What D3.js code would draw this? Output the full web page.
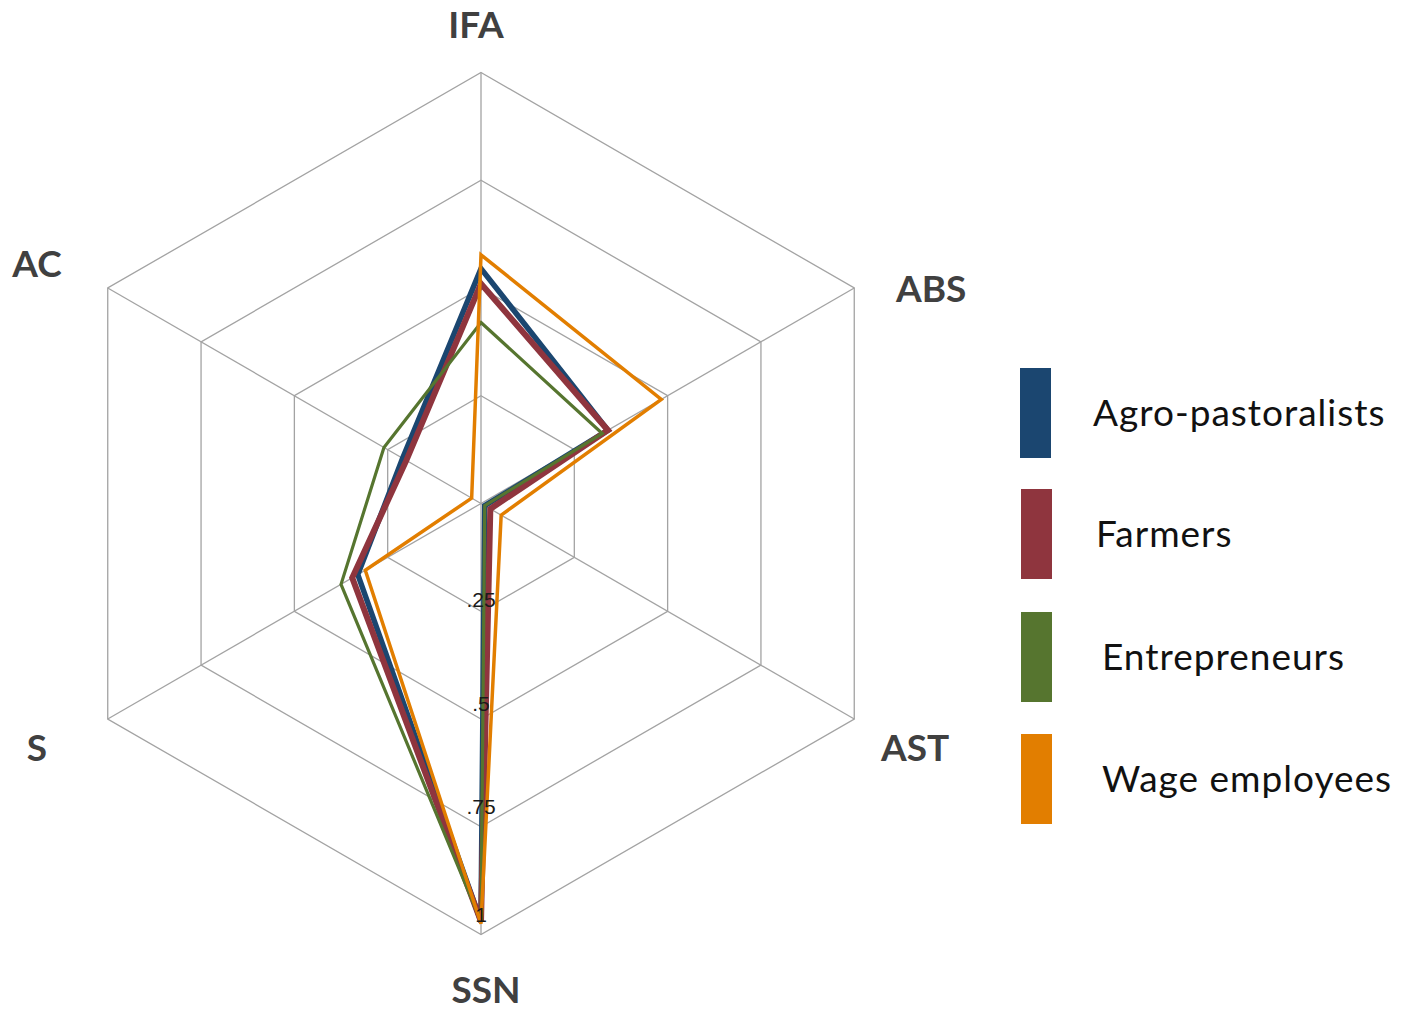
<!DOCTYPE html>
<html>
<head>
<meta charset="utf-8">
<script src="https://cdn.jsdelivr.net/npm/d3@7"></script>
<style>
  html, body { margin: 0; padding: 0; background: #fff; }
  svg { display: block; }
</style>
</head>
<body>
<div id="chart"></div>
<script>
// ── data ──
const axes = ["IFA", "ABS", "AST", "SSN", "S", "AC"];
const ringLevels = [0.25, 0.5, 0.75, 1];
const ringLabels = [".25", ".5", ".75", "1"];

const seriesNames = ["Agro-pastoralists", "Farmers", "Entrepreneurs", "Wage employees"];
const agroPastoralists = [0.545, 0.34, 0.01, 0.97, 0.33, 0.21];
const farmers = [0.51, 0.34, 0.025, 0.97, 0.345, 0.2];
const entrepreneurs = [0.42, 0.325, 0.01, 0.97, 0.375, 0.26];
const wageEmployees = [0.577, 0.483, 0.054, 0.975, 0.31, 0.025];
const seriesValues = [agroPastoralists, farmers, entrepreneurs, wageEmployees];

const colors = ["#1b4670", "#8f353e", "#56752f", "#e27e00"];
const widths = [5.5, 6, 3.2, 3.5];

// ── layout ──
const width = 1414, height = 1010;
const cx = 481, cy = 503.5, R = 431;

const svg = d3.select("#chart").append("svg")
  .attr("width", width)
  .attr("height", height);

const r = d3.scaleLinear().domain([0, 1]).range([0, R]);
const angle = d3.scalePoint().domain(axes.concat("_end")).range([0, 2 * Math.PI]);

const g = svg.append("g").attr("transform", `translate(${cx},${cy})`);

const pt = (a, v) => [Math.sin(angle(a)) * r(v), -Math.cos(angle(a)) * r(v)];

// grid rings
const ringLine = d3.lineRadial()
  .angle((d) => angle(d))
  .curve(d3.curveLinearClosed);

g.append("g").selectAll("path")
  .data(ringLevels)
  .enter()
  .append("path")
  .attr("d", (lv) => ringLine.radius(r(lv))(axes))
  .attr("fill", "none")
  .attr("stroke", "#a3a3a3")
  .attr("stroke-width", 1.3);

// spokes
g.append("g").selectAll("line")
  .data(axes)
  .enter()
  .append("line")
  .attr("x1", 0).attr("y1", 0)
  .attr("x2", (a) => pt(a, 1)[0])
  .attr("y2", (a) => pt(a, 1)[1])
  .attr("stroke", "#a3a3a3")
  .attr("stroke-width", 1.3);

// series
const seriesLine = d3.lineRadial()
  .angle((d, i) => angle(axes[i]))
  .radius((d) => r(d))
  .curve(d3.curveLinearClosed);

g.append("g").selectAll("path")
  .data(seriesValues)
  .enter()
  .append("path")
  .attr("d", (vals) => seriesLine(vals))
  .attr("fill", "none")
  .attr("stroke", (d, i) => colors[i])
  .attr("stroke-width", (d, i) => widths[i])
  .attr("stroke-linejoin", "miter");

// ring tick labels along SSN axis
const labelOffsets = [4, 8, 13, 13];
g.append("g").selectAll("text")
  .data(ringLevels)
  .enter()
  .append("text")
  .attr("x", (lv) => pt("SSN", lv)[0])
  .attr("y", (lv, i) => pt("SSN", lv)[1] - labelOffsets[i])
  .attr("text-anchor", "middle")
  .attr("font-family", "'Liberation Sans', Arial, sans-serif")
  .attr("font-size", 21)
  .attr("fill", "#1a1a1a")
  .text((lv, i) => ringLabels[i]);

// axis labels
const axisLabelPos = {
  IFA: [476, 38, "middle"],
  ABS: [896, 302, "start"],
  AST: [881, 761, "start"],
  SSN: [486, 1003, "middle"],
  S: [37, 761, "middle"],
  AC: [37, 277, "middle"],
};
svg.append("g").selectAll("text")
  .data(axes)
  .enter()
  .append("text")
  .attr("x", (a) => axisLabelPos[a][0])
  .attr("y", (a) => axisLabelPos[a][1])
  .attr("text-anchor", (a) => axisLabelPos[a][2])
  .attr("font-family", "Lato, 'Open Sans', sans-serif")
  .attr("font-weight", "bold")
  .attr("font-size", 37)
  .attr("fill", "#404040")
  .text((a) => a);

// legend
const legendY = [368, 489, 612, 734];
const legendTextX = [1093, 1096, 1102, 1102];
const legend = svg.append("g");
legend.selectAll("rect")
  .data(seriesNames)
  .enter()
  .append("rect")
  .attr("x", (d, i) => (i === 0 ? 1020 : 1021))
  .attr("y", (d, i) => legendY[i])
  .attr("width", 31)
  .attr("height", 90)
  .attr("fill", (d, i) => colors[i]);

legend.selectAll("text")
  .data(seriesNames)
  .enter()
  .append("text")
  .attr("x", (d, i) => legendTextX[i])
  .attr("y", (d, i) => legendY[i] + 58)
  .attr("font-family", "Lato, 'Open Sans', sans-serif")
  .attr("font-size", 37)
  .attr("letter-spacing", 1)
  .attr("fill", "#111")
  .text((d) => d);
</script>
</body>
</html>
